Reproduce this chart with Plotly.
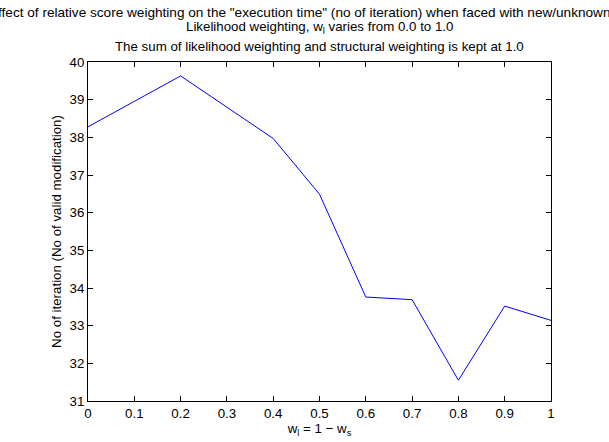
import plotly.graph_objects as go

# Data
w_l = [0.0, 0.2, 0.4, 0.5, 0.6, 0.7, 0.8, 0.9, 1.0]
iterations = [38.28, 39.63, 37.97, 36.49, 33.76, 33.69, 31.55, 33.52, 33.14]

x_ticks = [0, 0.1, 0.2, 0.3, 0.4, 0.5, 0.6, 0.7, 0.8, 0.9, 1.0]
x_ticktext = ["0", "0.1", "0.2", "0.3", "0.4", "0.5", "0.6", "0.7", "0.8", "0.9", "1"]
y_ticks = [31, 32, 33, 34, 35, 36, 37, 38, 39, 40]

title1 = 'Effect of relative score weighting on the "execution time" (no of iteration) when faced with new/unknown data'
title2 = "Likelihood weighting, w<sub>l</sub> varies from 0.0 to 1.0"
title3 = "The sum of likelihood weighting and structural weighting is kept at 1.0"
xlabel = "w<sub>l</sub> = 1 \u2212 w<sub>s</sub>"
ylabel = "No of iteration (No of valid modification)"

FONT = "Liberation Sans, Arial, Helvetica, sans-serif"
FS = 13.3

fig = go.Figure()
fig.add_trace(go.Scatter(x=w_l, y=iterations, mode="lines",
                         line=dict(color="#0000ff", width=1), showlegend=False))

axis_common = dict(showline=True, mirror="allticks", linecolor="black", linewidth=1,
                   ticks="inside", ticklen=5, tickcolor="black", tickwidth=1,
                   showgrid=False, zeroline=False,
                   tickfont=dict(family=FONT, size=FS, color="black"))

fig.update_xaxes(range=[0, 1], tickvals=x_ticks, ticktext=x_ticktext,
                 title=dict(text=xlabel, font=dict(family=FONT, size=FS, color="black"), standoff=0),
                 **axis_common)
fig.update_yaxes(range=[31, 40], tickvals=y_ticks,
                 title=dict(text=ylabel, font=dict(family=FONT, size=FS, color="black"), standoff=4),
                 **axis_common)

fig.update_layout(
    width=609, height=442,
    margin=dict(l=88, r=58, t=62, b=38),
    paper_bgcolor="white", plot_bgcolor="white",
    font=dict(family=FONT, size=FS, color="black"),
    annotations=[
        dict(text=title1, xref="paper", yref="paper", x=0, xshift=-101, y=1.0, yshift=50,
             xanchor="left", yanchor="middle", showarrow=False,
             font=dict(family=FONT, size=13.6, color="black")),
        dict(text=title2, xref="paper", yref="paper", x=0.5, y=1.0, yshift=35,
             xanchor="center", yanchor="middle", showarrow=False,
             font=dict(family=FONT, size=FS, color="black")),
        dict(text=title3, xref="paper", yref="paper", x=0.5, y=1.0, yshift=16,
             xanchor="center", yanchor="middle", showarrow=False,
             font=dict(family=FONT, size=FS, color="black")),
    ],
)

fig.write_html("out.html")
